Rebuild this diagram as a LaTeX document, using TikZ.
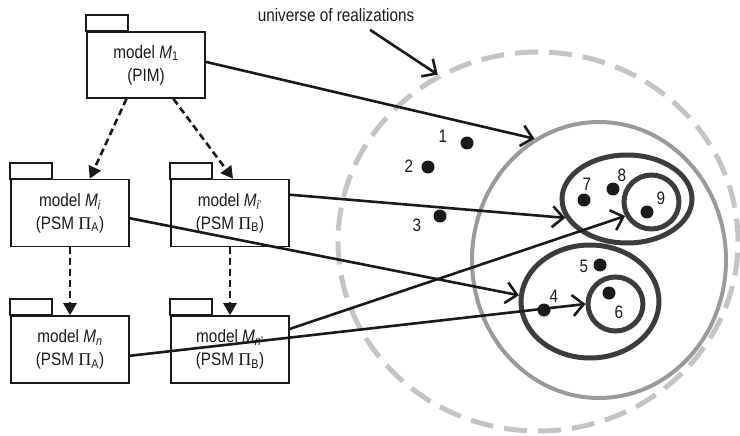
\documentclass[tikz,border=0pt]{standalone}
\usepackage{fontspec}
\setmainfont{Liberation Sans}[FakeStretch=0.85]
\newfontfamily\pifont{Liberation Serif}
\usetikzlibrary{arrows.meta,shapes.geometric}
\definecolor{inkc}{HTML}{1A1A1A}
\definecolor{univgray}{HTML}{C4C4C4}
\definecolor{setgray}{HTML}{9A9A9A}
\definecolor{subgray}{HTML}{3C3C3C}
\newcommand{\PiSym}{{\pifont Π}}
\begin{document}
\begin{tikzpicture}[x=1pt,y=-1pt,
  font=\fontsize{18}{23}\selectfont,
  pkg/.style={draw=inkc, line width=1.6pt, rectangle, minimum width=118pt,
    minimum height=67pt, inner sep=0pt, align=center, text=inkc},
  pkgtab/.style={draw=inkc, line width=1.6pt},
  refine/.style={draw=inkc, line width=2.6pt, dash pattern=on 7pt off 4pt,
    -{Triangle[length=12pt,width=13pt]}},
  realize/.style={draw=inkc, line width=2.6pt,
    -{Straight Barb[length=11pt,width=21pt]}},
  region/.style={ellipse, inner sep=0pt, draw},
  elem/.style={circle, fill=inkc, inner sep=0pt, minimum size=13pt},
  elemlabel/.style={text=inkc, inner sep=0pt},
]
\useasboundingbox (0,0) rectangle (740,436);

% model packages
\node[pkg, minimum height=66pt] (m1) at (146,65)
  {model \textit{M}\textsubscript{1}\\(PIM)};
\node[pkg] (mi) at (70,213)
  {model \textit{M}\textsubscript{\textit{i}}\\(PSM \PiSym\textsubscript{A})};
\node[pkg] (mi2) at (230,213)
  {model \textit{M}\textsubscript{\textit{i}'}\\(PSM \PiSym\textsubscript{B})};
\node[pkg] (mn) at (70,349.5)
  {model \textit{M}\textsubscript{\textit{n}}\\(PSM \PiSym\textsubscript{A})};
\node[pkg] (mn2) at (230,349.5)
  {model \textit{M}\textsubscript{\textit{n}'}\\(PSM \PiSym\textsubscript{B})};
\foreach \p in {m1,mi,mi2,mn,mn2}
  \draw[pkgtab] (\p.north west) rectangle ++(42,-16);

% refinement steps between models
\draw[refine] (m1.-120) -- (mi.60);
\draw[refine] (m1.-51) -- (mi2.85);
\draw[refine] (mi.south) -- (mn.north);
\draw[refine] (mi2.south) -- (mn2.north);

% sets of realizations
\node[region, draw=univgray, line width=5pt, dash pattern=on 23pt off 11pt,
  minimum width=400pt, minimum height=379pt] (univ) at (538,241.5) {};
\node[region, draw=setgray, line width=4pt,
  minimum width=254pt, minimum height=276pt] (r1) at (599,260) {};
\node[region, draw=subgray, line width=5pt,
  minimum width=130pt, minimum height=88pt] (e789) at (627,199) {};
\node[region, draw=subgray, line width=5pt,
  minimum width=55pt, minimum height=54pt] (c9) at (651.5,202) {};
\node[region, draw=subgray, line width=5pt,
  minimum width=138pt, minimum height=113pt] (e456) at (590,301.5) {};
\node[region, draw=subgray, line width=5pt,
  minimum width=55pt, minimum height=54pt] (c6) at (615.5,304) {};

% individual realizations
\node[elem] (d1) at (467,143) {};
\node[elem] (d2) at (428,167) {};
\node[elem] (d3) at (440,216) {};
\node[elem] (d4) at (544,310) {};
\node[elem] (d5) at (600,265) {};
\node[elem] (d6) at (609,293) {};
\node[elem] (d7) at (584,200) {};
\node[elem] (d8) at (613,189) {};
\node[elem] (d9) at (647,212) {};
\node[elemlabel] (l1) at (443,136) {1};
\node[elemlabel] (l2) at (409,166) {2};
\node[elemlabel] (l3) at (417,225) {3};
\node[elemlabel] (l4) at (554,296) {4};
\node[elemlabel] (l5) at (584,266) {5};
\node[elemlabel] (l6) at (619,312) {6};
\node[elemlabel] (l7) at (587,184) {7};
\node[elemlabel] (l8) at (622,175) {8};
\node[elemlabel] (l9) at (661,198) {9};

% label of the universe
\node[text=inkc, inner sep=0pt] (ulabel) at (336,15) {universe of realizations};
\draw[realize] ([xshift=34pt,yshift=-8pt]ulabel.south) -- (univ.121);

% realization relations
\draw[realize] (m1.3) -- (r1.118);
\draw[realize] (mi2.17) -- (e789.197);
\draw[realize] (mi.-5) -- (e456.175);
\draw[realize] (mn2.19) -- (c9.208);
\draw[realize] (mn.-6) -- (c6.west);
\end{tikzpicture}
\end{document}
